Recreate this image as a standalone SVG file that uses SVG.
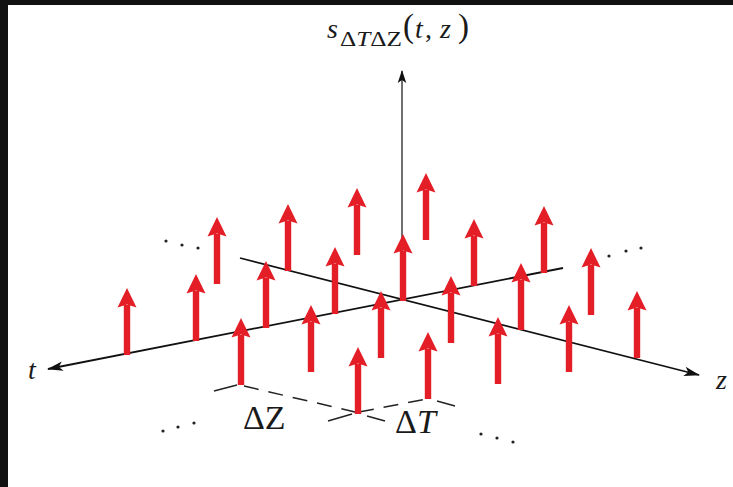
<svg xmlns="http://www.w3.org/2000/svg" xmlns:xlink="http://www.w3.org/1999/xlink" width="733" height="487" viewBox="0 0 733 487">
<style>
.ax{stroke:#111;stroke-width:1.8;fill:none}
.vx{stroke:#222;stroke-width:1.3;fill:none}
.dim{stroke:#222;stroke-width:1.5;fill:none}
.dash{stroke-dasharray:15 10}
.lbl{font-family:"Liberation Serif","Times New Roman",serif;fill:#1a1a1a}
.it{font-style:italic}
.dot{fill:#222}
.stem{fill:#e31e26}
</style>
<defs>
<marker id="ah" viewBox="-16 -6 17 12" refX="0" refY="0" markerWidth="17" markerHeight="12" markerUnits="userSpaceOnUse" orient="auto">
<path d="M1,0 L-15,-4.8 L-11,0 L-15,4.8 Z" fill="#111"/>
</marker>
<marker id="ahv" viewBox="-13 -5 14 10" refX="0" refY="0" markerWidth="14" markerHeight="10" markerUnits="userSpaceOnUse" orient="auto">
<path d="M1,0 L-12,-4.3 L-9,0 L-12,4.3 Z" fill="#111"/>
</marker>
<g id="stem" class="stem">
<rect x="-3.2" y="-50" width="6.4" height="50"/>
<path d="M0,-67 L9.5,-47.5 L0,-50.5 L-9.5,-47.5 Z"/>
</g>
</defs>
<rect x="0" y="0" width="733" height="487" fill="#fff"/>
<rect x="0" y="0" width="733" height="5" fill="#111"/>
<rect x="0" y="0" width="8" height="487" fill="#111"/>

<g id="connectors">
<line class="ax" x1="563" y1="268" x2="48" y2="369" marker-end="url(#ah)"/>
<line class="ax" x1="240" y1="258" x2="699" y2="375" marker-end="url(#ah)"/>
<line class="vx" x1="402" y1="300" x2="402" y2="71" marker-end="url(#ahv)"/>
<line class="dim" x1="214" y1="391" x2="237" y2="385"/>
<line class="dim dash" x1="244" y1="386" x2="355" y2="412"/>
<line class="dim" x1="328" y1="421" x2="352" y2="414"/>
<line class="dim" x1="367" y1="416" x2="385" y2="421"/>
<line class="dim dash" x1="359" y1="412" x2="427" y2="399"/>
<line class="dim" x1="437" y1="401" x2="455" y2="406"/>
</g>

<g id="samples">
<g id="s1"><use xlink:href="#stem" href="#stem" x="127" y="355"/></g>
<g id="s2"><use xlink:href="#stem" href="#stem" x="196" y="341"/></g>
<g id="s3"><use xlink:href="#stem" href="#stem" x="266" y="328"/></g>
<g id="s4"><use xlink:href="#stem" href="#stem" x="335" y="314"/></g>
<g id="s5"><use xlink:href="#stem" href="#stem" x="403" y="301"/></g>
<g id="s6"><use xlink:href="#stem" href="#stem" x="474" y="286"/></g>
<g id="s7"><use xlink:href="#stem" href="#stem" x="544" y="273"/></g>
<g id="s8"><use xlink:href="#stem" href="#stem" x="217" y="284"/></g>
<g id="s9"><use xlink:href="#stem" href="#stem" x="288" y="271"/></g>
<g id="s10"><use xlink:href="#stem" href="#stem" x="357" y="255"/></g>
<g id="s11"><use xlink:href="#stem" href="#stem" x="426" y="240"/></g>
<g id="s12"><use xlink:href="#stem" href="#stem" x="591" y="315"/></g>
<g id="s13"><use xlink:href="#stem" href="#stem" x="521" y="330"/></g>
<g id="s14"><use xlink:href="#stem" href="#stem" x="637" y="358"/></g>
<g id="s15"><use xlink:href="#stem" href="#stem" x="451" y="343"/></g>
<g id="s16"><use xlink:href="#stem" href="#stem" x="569" y="372"/></g>
<g id="s17"><use xlink:href="#stem" href="#stem" x="381" y="358"/></g>
<g id="s18"><use xlink:href="#stem" href="#stem" x="498" y="384"/></g>
<g id="s19"><use xlink:href="#stem" href="#stem" x="311" y="372"/></g>
<g id="s20"><use xlink:href="#stem" href="#stem" x="428" y="399"/></g>
<g id="s21"><use xlink:href="#stem" href="#stem" x="241" y="385"/></g>
<g id="s22"><use xlink:href="#stem" href="#stem" x="358" y="414"/></g>
</g>

<g id="dots">
<circle class="dot" cx="166" cy="241" r="1.6"/><circle class="dot" cx="182" cy="245" r="1.6"/><circle class="dot" cx="198" cy="248" r="1.6"/>
<circle class="dot" cx="609" cy="256" r="1.6"/><circle class="dot" cx="626" cy="251" r="1.6"/><circle class="dot" cx="641" cy="248" r="1.6"/>
<circle class="dot" cx="163" cy="431" r="1.6"/><circle class="dot" cx="178" cy="427" r="1.6"/><circle class="dot" cx="194" cy="423" r="1.6"/>
<circle class="dot" cx="481" cy="434" r="1.6"/><circle class="dot" cx="497" cy="438" r="1.6"/><circle class="dot" cx="513" cy="442" r="1.6"/>
</g>

<g id="labels">
<text class="lbl" font-size="28"><tspan class="it" x="327" y="38">s</tspan></text>
<text class="lbl" font-size="21" x="340" y="46" textLength="62" lengthAdjust="spacingAndGlyphs">Δ<tspan class="it">T</tspan>Δ<tspan>Z</tspan></text>
<text class="lbl" font-size="28"><tspan x="403" y="37" font-size="33">(</tspan><tspan class="it" x="415" y="38">t</tspan><tspan x="425" y="38">,</tspan><tspan class="it" x="440" y="38">z</tspan><tspan x="458" y="37" font-size="33">)</tspan></text>
<text class="lbl it" font-size="28" x="28" y="379">t</text>
<text class="lbl it" font-size="28" x="716" y="389">z</text>
<text class="lbl" font-size="34" x="243" y="429">ΔZ</text>
<text class="lbl" font-size="34" x="395" y="433">Δ<tspan class="it">T</tspan></text>
</g>
</svg>
